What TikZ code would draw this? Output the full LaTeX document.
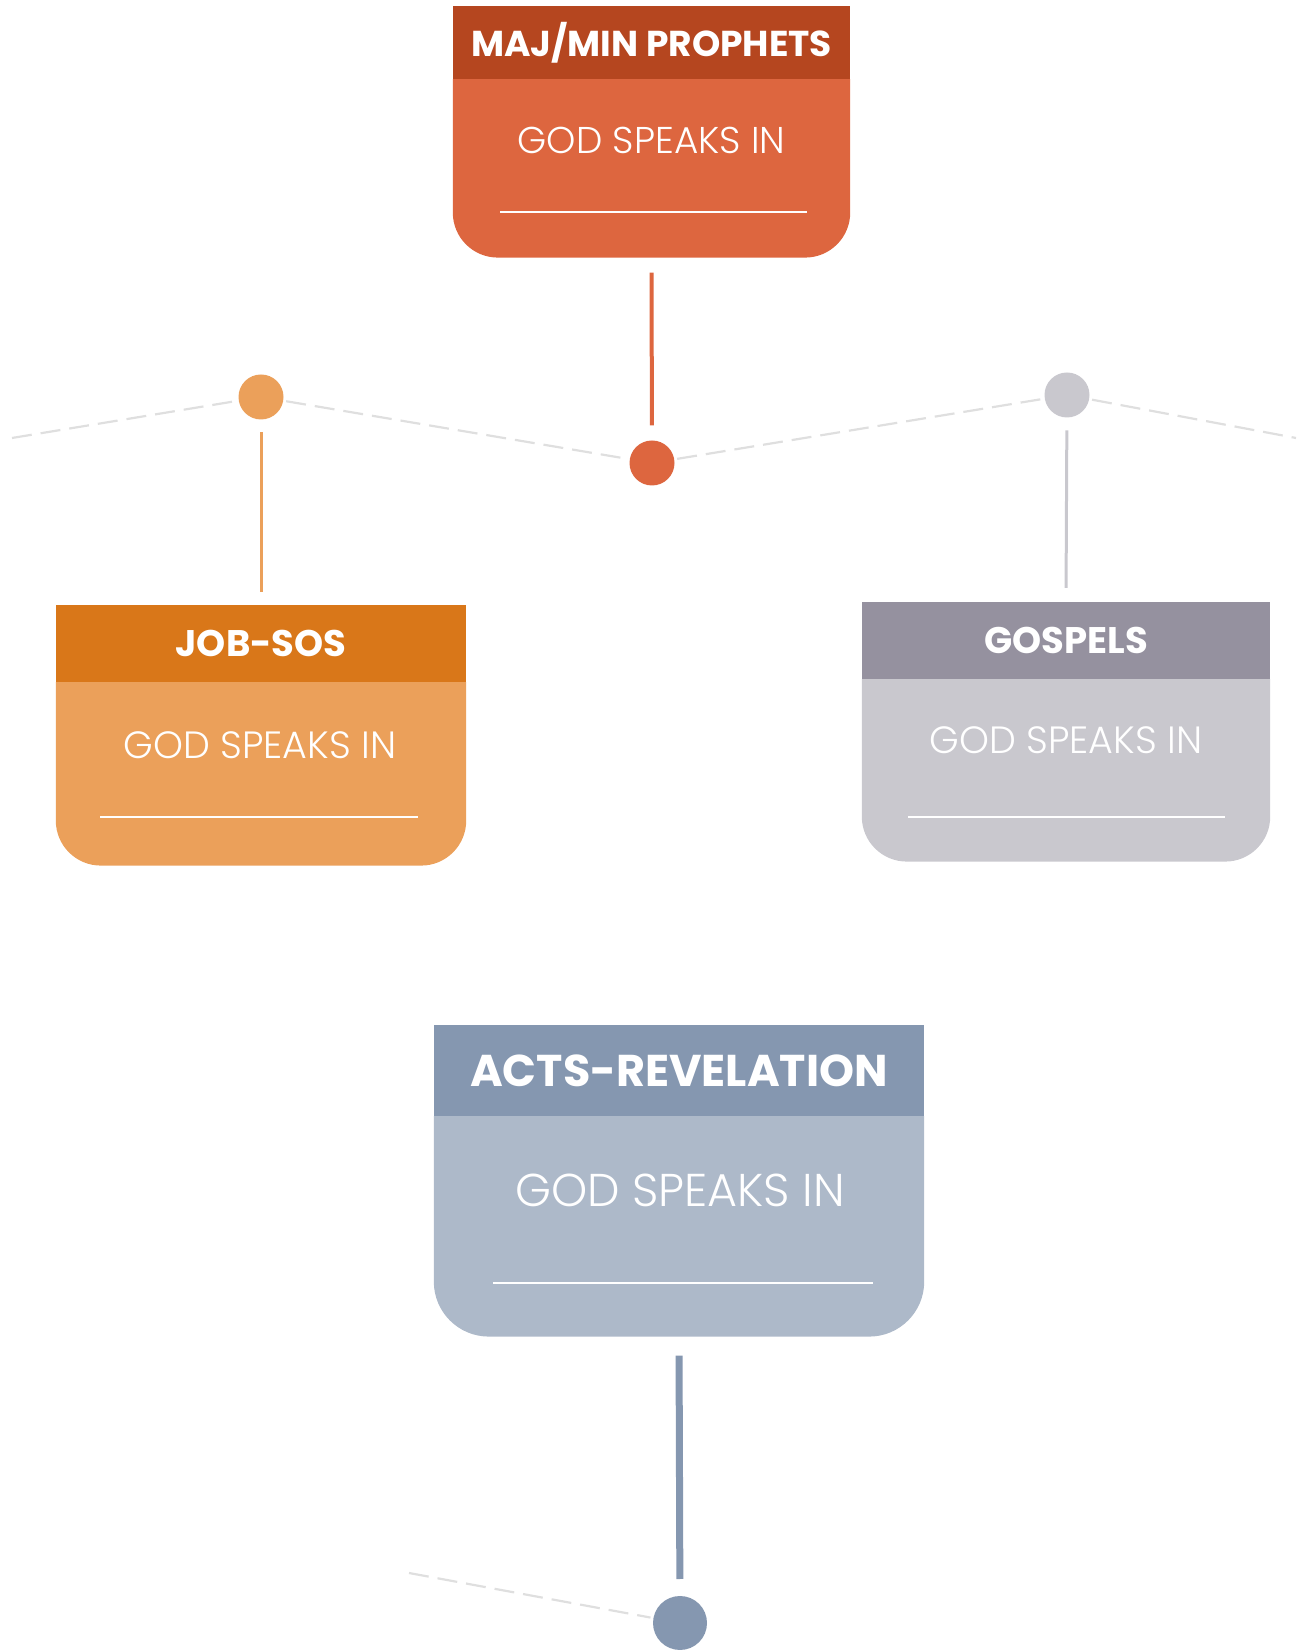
\documentclass[tikz,border=0pt]{standalone}
\usepackage{fontspec}
\newfontfamily\hdrfont{Poppins Bold}
\newfontfamily\bodyfont{Poppins Light}
\usetikzlibrary{calc}
\definecolor{hredD}{HTML}{B5461F}
\definecolor{hred}{HTML}{DD663F}
\definecolor{horgD}{HTML}{D97719}
\definecolor{horg}{HTML}{EBA05A}
\definecolor{hgryD}{HTML}{95919F}
\definecolor{hgry}{HTML}{C9C8CE}
\definecolor{hbluD}{HTML}{8597B0}
\definecolor{hblu}{HTML}{ADB9C9}
\definecolor{dashgray}{HTML}{DFDFDF}
\tikzset{
  hdr/.style={rectangle, inner sep=0pt, text=white, font=\hdrfont\fontsize{37}{37}\selectfont},
  bodybox/.style={rectangle, inner sep=0pt},
  bodytxt/.style={inner sep=0pt, text=white, font=\bodyfont\fontsize{38}{38}\selectfont},
  dot/.style={circle, inner sep=0pt, outer sep=3pt},
  dashline/.style={draw=dashgray, line width=2.2pt, dash pattern=on 20pt off 9pt},
  blank/.style={draw=white, line width=2.5pt}
}
\begin{document}
\begin{tikzpicture}[x=1pt,y=1pt]
\useasboundingbox (0,0) rectangle (1299,1651);
% ---------- top box (MAJ/MIN PROPHETS)
\node[hdr, fill=hredD, minimum width=397pt, minimum height=73pt, font=\hdrfont\fontsize{36}{36}\selectfont] (h1) at (651.5,1608.5) {MAJ/MIN PROPHETS};
\node[bodybox, minimum width=397pt, minimum height=178pt, anchor=north] (b1) at (h1.south) {};
\fill[hred] (b1.north west) -- (b1.north east) -- ([yshift=45pt]b1.south east) arc[start angle=0,end angle=-90,radius=45pt] -- ([xshift=45pt]b1.south west) arc[start angle=270,end angle=180,radius=45pt] -- cycle;
\node[bodytxt, font=\bodyfont\fontsize{37.3}{37.3}\selectfont] (t1) at (651.5,1511) {GOD SPEAKS IN};
\coordinate (l1a) at (500,1439); \coordinate (l1b) at (807,1439);
\draw[blank] (l1a) -- (l1b);
% ---------- left box (JOB-SOS)
\node[hdr, fill=horgD, minimum width=410pt, minimum height=77pt] (h2) at (261,1007.5) {JOB-SOS};
\node[bodybox, minimum width=410pt, minimum height=183pt, anchor=north] (b2) at (h2.south) {};
\fill[horg] (b2.north west) -- (b2.north east) -- ([yshift=45pt]b2.south east) arc[start angle=0,end angle=-90,radius=45pt] -- ([xshift=45pt]b2.south west) arc[start angle=270,end angle=180,radius=45pt] -- cycle;
\node[bodytxt] (t2) at (260,906) {GOD SPEAKS IN};
\coordinate (l2a) at (100,834); \coordinate (l2b) at (418,834);
\draw[blank] (l2a) -- (l2b);
% ---------- right box (GOSPELS)
\node[hdr, fill=hgryD, minimum width=408pt, minimum height=77pt] (h3) at (1066,1010.5) {GOSPELS};
\node[bodybox, minimum width=408pt, minimum height=182pt, anchor=north] (b3) at (h3.south) {};
\fill[hgry] (b3.north west) -- (b3.north east) -- ([yshift=45pt]b3.south east) arc[start angle=0,end angle=-90,radius=45pt] -- ([xshift=45pt]b3.south west) arc[start angle=270,end angle=180,radius=45pt] -- cycle;
\node[bodytxt] (t3) at (1066,911) {GOD SPEAKS IN};
\coordinate (l3a) at (908,834); \coordinate (l3b) at (1225,834);
\draw[blank] (l3a) -- (l3b);
% ---------- bottom box (ACTS-REVELATION)
\node[hdr, fill=hbluD, minimum width=490pt, minimum height=91pt, font=\hdrfont\fontsize{44.5}{44.5}\selectfont] (h4) at (679,580.5) {ACTS-REVELATION};
\node[bodybox, minimum width=490pt, minimum height=220pt, anchor=north] (b4) at (h4.south) {};
\fill[hblu] (b4.north west) -- (b4.north east) -- ([yshift=55pt]b4.south east) arc[start angle=0,end angle=-90,radius=55pt] -- ([xshift=55pt]b4.south west) arc[start angle=270,end angle=180,radius=55pt] -- cycle;
\node[bodytxt, font=\bodyfont\fontsize{46}{46}\selectfont] (t4) at (680,461) {GOD SPEAKS IN};
\coordinate (l4a) at (493,368); \coordinate (l4b) at (873,368);
\draw[blank] (l4a) -- (l4b);
% ---------- dots
\node[dot, fill=horg, minimum size=45pt] (d2) at (261,1254) {};
\node[dot, fill=hred, minimum size=45pt] (d1) at (652,1188) {};
\node[dot, fill=hgry, minimum size=45pt] (d3) at (1067,1256) {};
\node[dot, fill=hbluD, minimum size=54pt] (d4) at (680,28) {};
\coordinate (zl) at (12,1213);
\coordinate (zr) at (1296,1213);
\coordinate (zb) at (409,78);
% ---------- dashed zigzag
\draw[dashline] (zl) -- (d2);
\draw[dashline] (d2) -- (d1);
\draw[dashline] (d1) -- (d3);
\draw[dashline] (d3) -- (zr);
\draw[dashline] (zb) -- (d4);
% ---------- connectors
\draw[draw=hred, line width=4pt, shorten <=15pt, shorten >=12pt] (b1.south) -- (d1);
\draw[draw=horg, line width=3pt, shorten <=10pt, shorten >=13pt] (d2) -- (h2.north);
\draw[draw=hgry, line width=3pt, shorten <=10pt, shorten >=14pt] (d3) -- (h3.north);
\draw[draw=hbluD, line width=7pt, shorten <=19pt, shorten >=14pt] (b4.south) -- (d4);
\end{tikzpicture}
\end{document}
